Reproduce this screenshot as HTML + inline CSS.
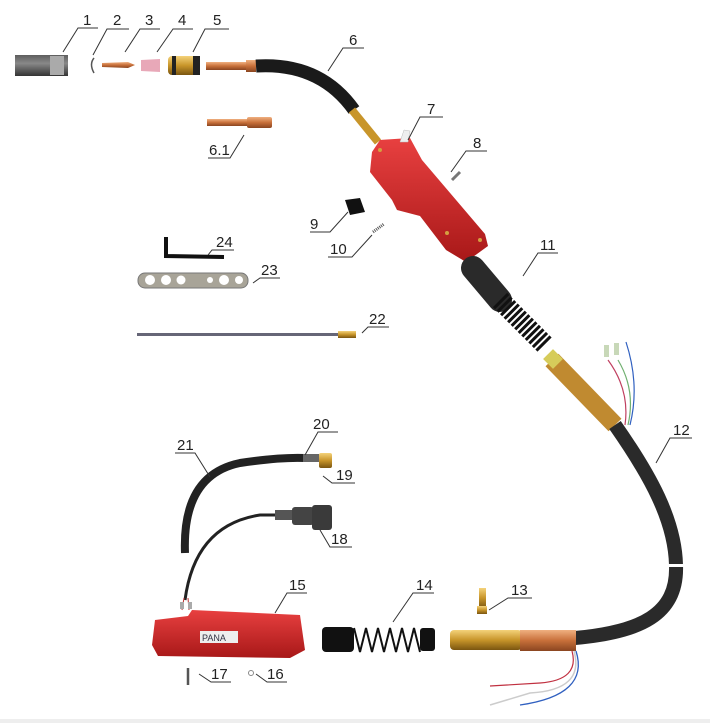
<!DOCTYPE html>
<html><head><meta charset="utf-8"><style>
html,body{margin:0;padding:0;background:#fff}
svg{display:block}
text{font-family:"Liberation Sans",sans-serif;font-size:15px;fill:#222}
.l{stroke:#333;stroke-width:1;fill:none}
</style></head><body>
<svg width="710" height="723" viewBox="0 0 710 723" xmlns="http://www.w3.org/2000/svg">
<defs>
<linearGradient id="cu" x1="0" y1="0" x2="0" y2="1"><stop offset="0" stop-color="#f0b080"/><stop offset=".5" stop-color="#c8703a"/><stop offset="1" stop-color="#8a4520"/></linearGradient>
<linearGradient id="br" x1="0" y1="0" x2="0" y2="1"><stop offset="0" stop-color="#f4d27a"/><stop offset=".5" stop-color="#c8952a"/><stop offset="1" stop-color="#7a5510"/></linearGradient>
<linearGradient id="gr" x1="0" y1="0" x2="0" y2="1"><stop offset="0" stop-color="#888"/><stop offset=".4" stop-color="#ddd"/><stop offset="1" stop-color="#333"/></linearGradient>
<linearGradient id="rd" x1="0" y1="0" x2="0" y2="1"><stop offset="0" stop-color="#e84040"/><stop offset="1" stop-color="#a81818"/></linearGradient>
</defs>
<rect x="0" y="719" width="710" height="4" fill="#eee"/>

<rect x="15" y="55" width="53" height="21" fill="url(#gr)"/>
<rect x="15" y="55" width="53" height="21" fill="#333" opacity=".5"/>
<rect x="50" y="56" width="14" height="19" fill="#aaa"/>
<path d="M94 58 Q89 64 94 73" stroke="#555" stroke-width="1.5" fill="none"/>
<path d="M102 63 L128 62 L135 65 L128 68 L102 67Z" fill="url(#cu)"/>
<path d="M141 60 L160 59 L160 72 L141 71Z" fill="#e8a8b8"/>
<rect x="168" y="56" width="32" height="19" rx="4" fill="url(#br)"/>
<rect x="193" y="56" width="7" height="19" fill="#222"/>
<rect x="172" y="56" width="4" height="19" fill="#222"/>
<rect x="206" y="62" width="40" height="8" fill="url(#cu)"/>
<rect x="246" y="60" width="10" height="12" fill="url(#cu)"/>
<path d="M256 66 Q320 62 354 110" stroke="#1a1a1a" stroke-width="13" fill="none"/>
<path d="M352 110 L378 142" stroke="#c8952a" stroke-width="8" fill="none"/>
<rect x="207" y="119" width="40" height="7" fill="url(#cu)"/>
<rect x="247" y="117" width="25" height="11" rx="2" fill="url(#cu)"/>

<path d="M380 140 L410 138 L422 160 L485 234 L488 246 L466 262 L446 250 L420 216 L397 210 L392 200 L370 172 L372 152Z" fill="url(#rd)"/>
<path d="M400 142 L408 142 L410 131 L404 130Z" fill="#eee" stroke="#bbb" stroke-width=".5"/>
<circle cx="380" cy="150" r="2" fill="#d4a040"/><circle cx="447" cy="233" r="2" fill="#d4a040"/><circle cx="480" cy="240" r="2" fill="#d4a040"/>
<path d="M452 180 L460 172" stroke="#777" stroke-width="3"/>
<path d="M345 200 L360 198 L365 212 L350 215Z" fill="#111"/>
<path d="M373 232 L384 224" stroke="#555" stroke-width="3" stroke-dasharray="1 1"/>
<path d="M473 268 L500 300" stroke="#2a2a2a" stroke-width="24" stroke-linecap="round"/>
<path d="M500 300 L545 345" stroke="#111" stroke-width="20" stroke-dasharray="3 2"/>
<path d="M552 360 L615 425" stroke="#c08a30" stroke-width="18"/>
<rect x="546" y="352" width="14" height="14" fill="#d6cc5a" transform="rotate(45 553 359)"/>
<path d="M615 425 C650 475 675 520 676 565 C678 615 640 632 575 638" stroke="#2a2a2a" stroke-width="14" fill="none"/>
<rect x="665" y="564" width="22" height="3" fill="#fff"/>
<path d="M625 425 Q630 390 608 360" stroke="#c04060" stroke-width="1.2" fill="none"/>
<path d="M628 425 Q636 390 618 360" stroke="#70b070" stroke-width="1.2" fill="none"/>
<path d="M630 425 Q640 385 626 342" stroke="#3060c0" stroke-width="1.2" fill="none"/>
<rect x="604" y="345" width="5" height="12" fill="#c8d8b8"/><rect x="614" y="343" width="5" height="12" fill="#c8d8b8"/>

<path d="M166 237 L166 256 L224 257" stroke="#111" stroke-width="4" fill="none"/>
<rect x="138" y="273" width="110" height="15" rx="7" fill="#a8a498" stroke="#777"/>
<g fill="#fff"><circle cx="150" cy="280" r="5"/><circle cx="166" cy="280" r="5"/><circle cx="181" cy="280" r="4.5"/><circle cx="210" cy="280" r="3"/><circle cx="224" cy="280" r="5"/><circle cx="239" cy="280" r="4"/></g>
<rect x="137" y="333" width="203" height="3" fill="#667"/>
<rect x="338" y="331" width="18" height="7" fill="url(#br)"/>

<path d="M185 553 Q182 475 240 463 Q280 457 305 458" stroke="#222" stroke-width="8" fill="none"/>
<rect x="303" y="454" width="16" height="8" fill="#666"/>
<rect x="319" y="453" width="13" height="15" rx="2" fill="url(#br)"/>
<path d="M185 600 Q195 525 260 515 L275 515" stroke="#222" stroke-width="3" fill="none"/>
<rect x="275" y="510" width="20" height="10" fill="#555"/>
<rect x="292" y="507" width="22" height="18" rx="3" fill="#444"/>
<rect x="312" y="505" width="20" height="25" rx="3" fill="#3a3a3a"/>
<path d="M184 598 L182 610 M188 598 L189 610" stroke="#c03030" stroke-width="1"/>
<rect x="180" y="602" width="4" height="7" fill="#aaa"/><rect x="188" y="602" width="4" height="7" fill="#aaa"/>

<path d="M155 620 L188 616 L192 610 L300 615 L305 650 L290 658 L158 656 L152 645Z" fill="url(#rd)"/>
<rect x="200" y="631" width="38" height="12" fill="#eee"/>
<text x="202" y="641" style="font-size:9px;fill:#334">PANA</text>
<path d="M188 668 L188 685" stroke="#555" stroke-width="2.5"/>
<circle cx="251" cy="673" r="2.5" fill="none" stroke="#888"/>
<rect x="322" y="627" width="32" height="25" rx="4" fill="#111"/>
<path d="M354 628 L360 652 L366 628 L372 652 L378 628 L384 652 L390 628 L396 652 L402 628 L408 652 L414 628 L420 652" stroke="#111" stroke-width="2" fill="none"/>
<rect x="420" y="628" width="15" height="23" rx="3" fill="#111"/>
<rect x="479" y="588" width="7" height="20" fill="url(#br)"/>
<rect x="477" y="606" width="10" height="8" fill="url(#br)"/>
<rect x="450" y="630" width="72" height="20" rx="4" fill="url(#br)"/>
<rect x="520" y="630" width="56" height="21" fill="url(#cu)"/>
<path d="M572 651 Q580 680 540 683 L490 686" stroke="#c03040" stroke-width="1.2" fill="none"/>
<path d="M574 651 Q585 690 530 693 L490 705" stroke="#ccc" stroke-width="1.5" fill="none"/>
<path d="M576 651 Q590 695 520 705" stroke="#3060c0" stroke-width="1.3" fill="none"/>

<g class="l">
<path d="M63 52 L78 28 L98 28"/><path d="M93 55 L107 29 L129 29"/><path d="M125 52 L140 29 L160 29"/>
<path d="M157 52 L173 29 L193 29"/><path d="M193 52 L205 29 L229 29"/><path d="M328 71 L343 48 L364 48"/>
<path d="M244 135 L230 158 L208 158"/><path d="M408 140 L420 117 L443 117"/><path d="M451 172 L466 151 L487 151"/>
<path d="M348 212 L330 232 L310 232"/><path d="M372 235 L352 257 L328 257"/><path d="M523 276 L538 253 L558 253"/>
<path d="M656 463 L670 438 L692 438"/><path d="M489 610 L508 598 L532 598"/><path d="M393 622 L413 593 L434 593"/>
<path d="M275 613 L287 593 L307 593"/><path d="M256 674 L267 682 L287 682"/><path d="M199 674 L211 682 L231 682"/>
<path d="M320 530 L330 547 L352 547"/><path d="M323 476 L332 483 L355 483"/><path d="M305 455 L318 432 L338 432"/>
<path d="M210 477 L195 453 L175 453"/><path d="M362 333 L368 327 L389 327"/><path d="M253 283 L260 278 L280 278"/>
<path d="M208 255 L212 250 L234 250"/>
</g>
<text x="83" y="25">1</text><text x="113" y="25">2</text><text x="145" y="25">3</text><text x="178" y="25">4</text>
<text x="213" y="25">5</text><text x="349" y="45">6</text><text x="209" y="155">6.1</text><text x="427" y="114">7</text>
<text x="473" y="148">8</text><text x="310" y="229">9</text><text x="330" y="254">10</text><text x="540" y="250">11</text>
<text x="673" y="435">12</text><text x="511" y="595">13</text><text x="416" y="590">14</text><text x="289" y="590">15</text>
<text x="267" y="679">16</text><text x="211" y="679">17</text><text x="331" y="544">18</text><text x="336" y="480">19</text>
<text x="313" y="429">20</text><text x="177" y="450">21</text><text x="369" y="324">22</text><text x="261" y="275">23</text>
<text x="216" y="247">24</text>
</svg>
</body></html>
